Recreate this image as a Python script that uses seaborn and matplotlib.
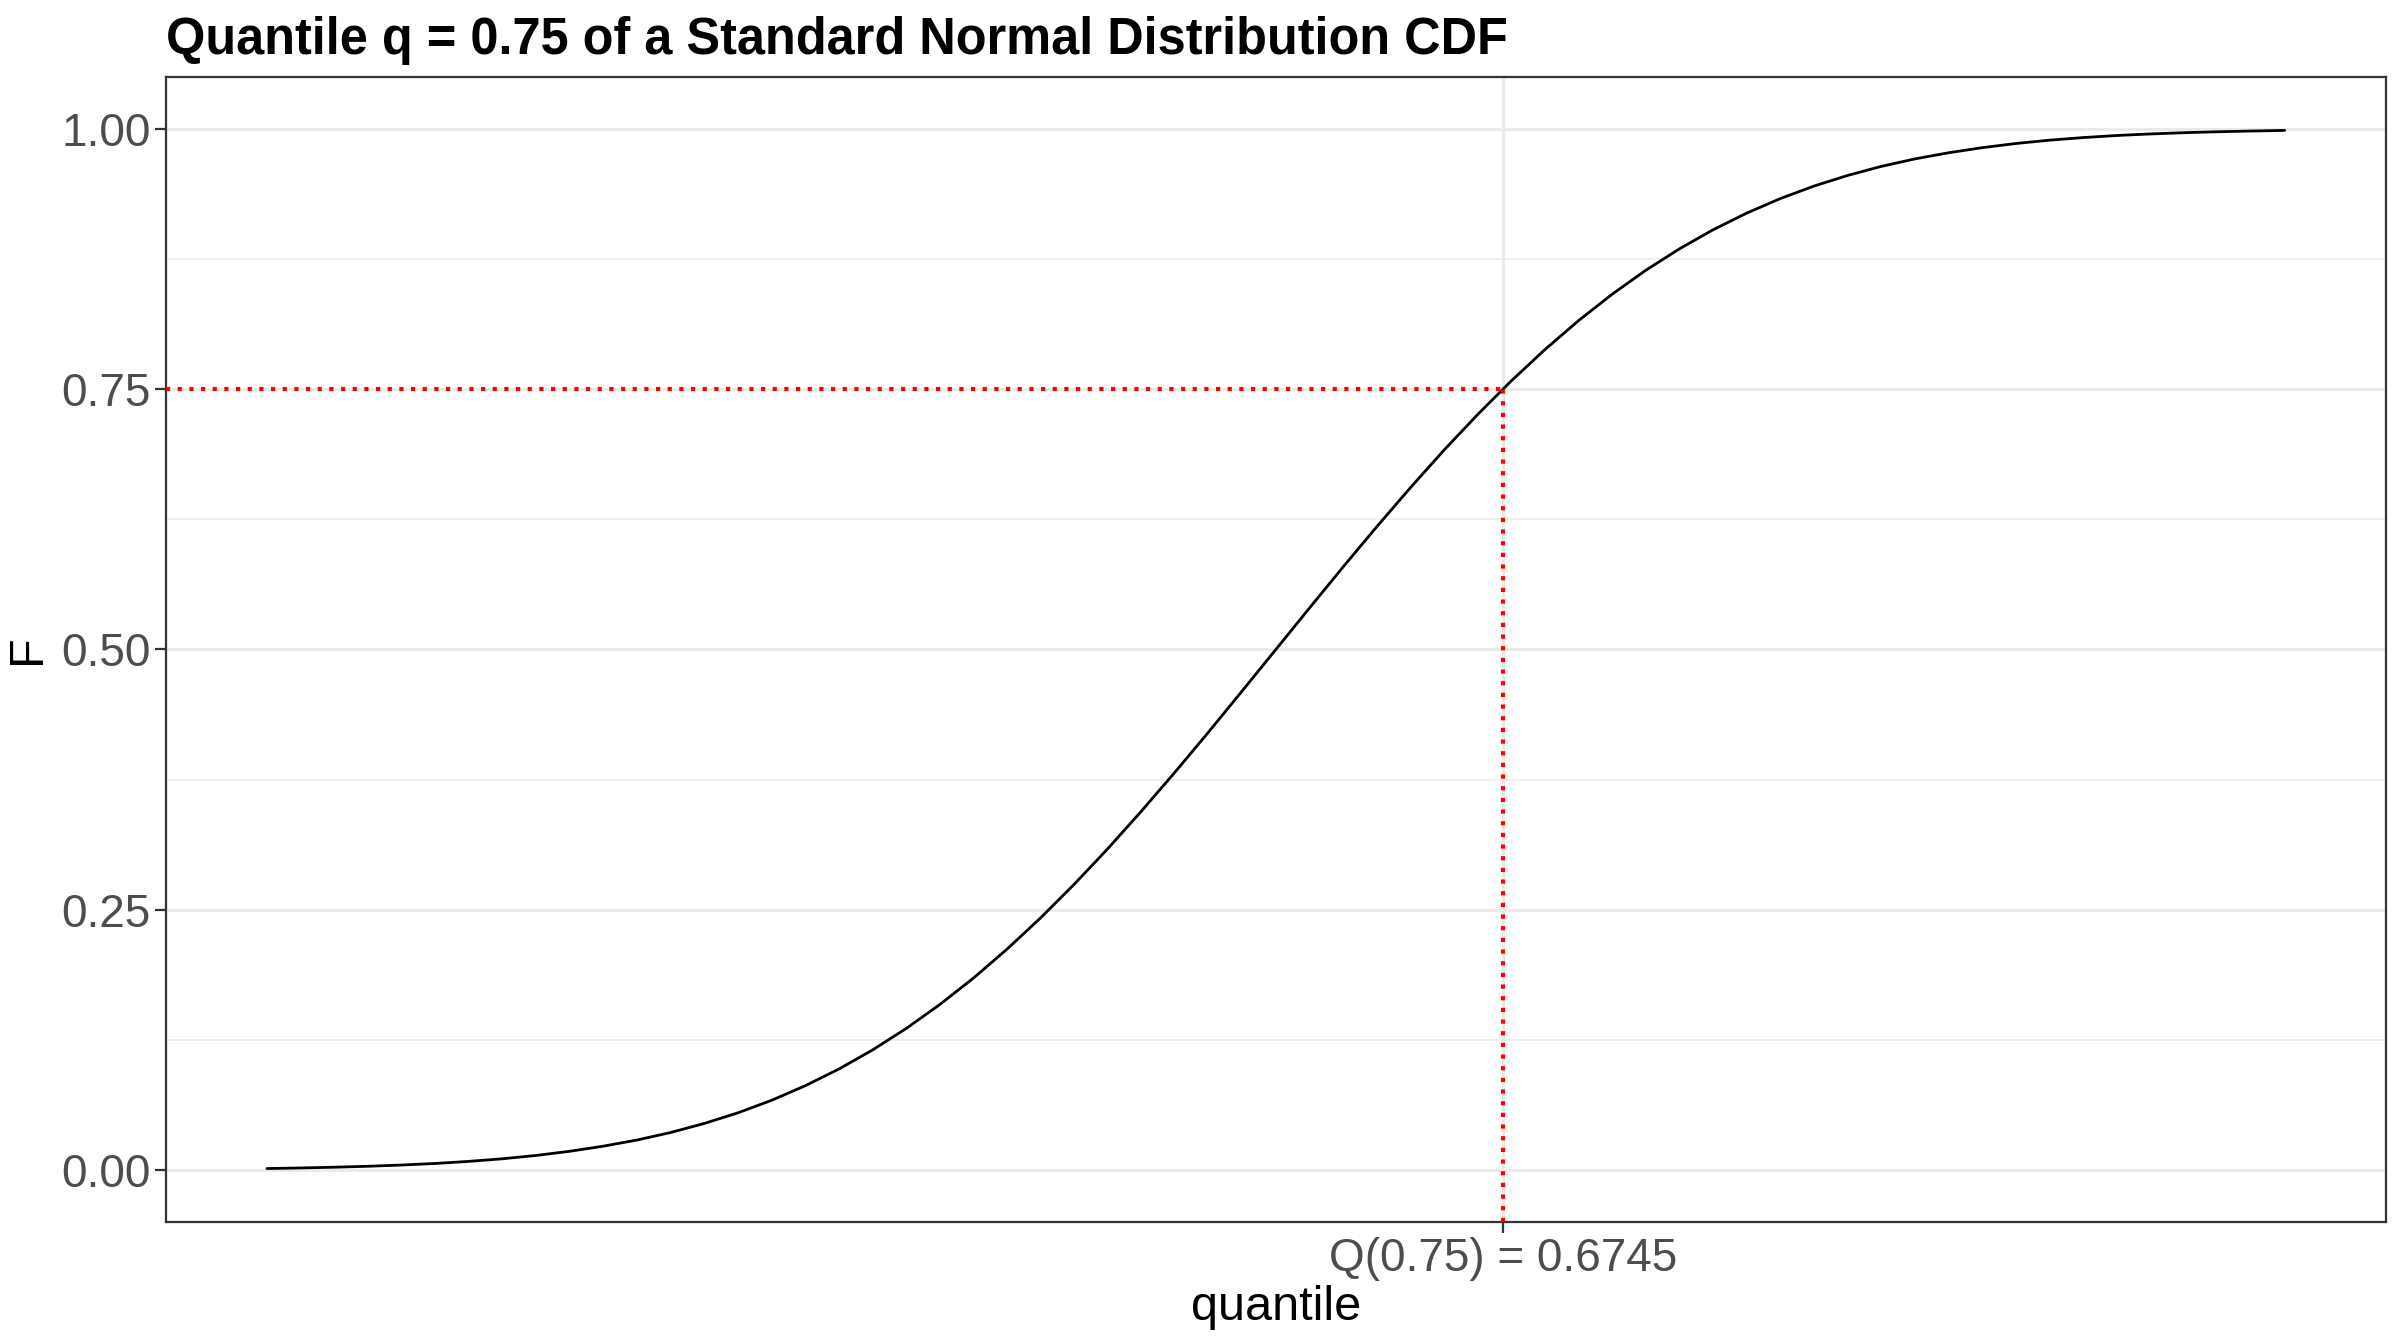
import numpy as np
import pandas as pd
import matplotlib
matplotlib.use("Agg")
import matplotlib.pyplot as plt
import seaborn as sns

# ---- data ----
quantile = [-3.0, -2.9, -2.8, -2.7, -2.6, -2.5, -2.4, -2.3, -2.2, -2.1,
            -2.0, -1.9, -1.8, -1.7, -1.6, -1.5, -1.4, -1.3, -1.2, -1.1,
            -1.0, -0.9, -0.8, -0.7, -0.6, -0.5, -0.4, -0.3, -0.2, -0.1,
            0.0, 0.1, 0.2, 0.3, 0.4, 0.5, 0.6, 0.7, 0.8, 0.9,
            1.0, 1.1, 1.2, 1.3, 1.4, 1.5, 1.6, 1.7, 1.8, 1.9,
            2.0, 2.1, 2.2, 2.3, 2.4, 2.5, 2.6, 2.7, 2.8, 2.9, 3.0]
F = [0.0013, 0.0019, 0.0026, 0.0035, 0.0047, 0.0062, 0.0082, 0.0107, 0.0139, 0.0179,
     0.0228, 0.0287, 0.0359, 0.0446, 0.0548, 0.0668, 0.0808, 0.0968, 0.1151, 0.1357,
     0.1587, 0.1841, 0.2119, 0.2420, 0.2743, 0.3085, 0.3446, 0.3821, 0.4207, 0.4602,
     0.5000, 0.5398, 0.5793, 0.6179, 0.6554, 0.6915, 0.7257, 0.7580, 0.7881, 0.8159,
     0.8413, 0.8643, 0.8849, 0.9032, 0.9192, 0.9332, 0.9452, 0.9554, 0.9641, 0.9713,
     0.9772, 0.9821, 0.9861, 0.9893, 0.9918, 0.9938, 0.9953, 0.9965, 0.9974, 0.9981, 0.9987]
q_level = 0.75
q_value = 0.6745
x_tick_labels = ["Q(0.75) = 0.6745"]
y_ticks = [0.0, 0.25, 0.5, 0.75, 1.0]
y_tick_labels = ["0.00", "0.25", "0.50", "0.75", "1.00"]
y_minor = [0.125, 0.375, 0.625, 0.875]
title = "Quantile q = 0.75 of a Standard Normal Distribution CDF"

df = pd.DataFrame({"quantile": quantile, "F": F})

sns.set_theme(style="white")
plt.rcParams["font.family"] = ["Liberation Sans", "DejaVu Sans"]

fig = plt.figure(figsize=(12, 6.72), dpi=200)
ax = fig.add_axes([0.0692, 0.0908, 0.9248, 0.8519])

xmin, xmax = min(quantile), max(quantile)
pad = 0.05 * (xmax - xmin)
ax.set_xlim(xmin - pad, xmax + pad)
ax.set_ylim(-0.05, 1.05)

# grid
for y in y_minor:
    ax.axhline(y, color="#EBEBEB", lw=0.6, zorder=0)
for y in y_ticks:
    ax.axhline(y, color="#EBEBEB", lw=1.1, zorder=0)
ax.axvline(q_value, color="#EBEBEB", lw=1.1, zorder=0)

sns.lineplot(data=df, x="quantile", y="F", color="black", linewidth=1.0, ax=ax, zorder=3)

# red dotted guides
x0 = ax.get_xlim()[0]
y0 = ax.get_ylim()[0]
ax.plot([x0, q_value], [q_level, q_level], color="red", lw=1.5,
        linestyle=(0, (1, 1.8)), zorder=4, dash_capstyle="butt")
ax.plot([q_value, q_value], [y0, q_level], color="red", lw=1.5,
        linestyle=(0, (1, 1.8)), zorder=4, dash_capstyle="butt")

ax.set_xticks([q_value])
ax.set_xticklabels(x_tick_labels)
ax.set_yticks(y_ticks)
ax.set_yticklabels(y_tick_labels)
ax.tick_params(axis="both", which="major", length=4, width=0.8, color="#333333",
               labelsize=16.5, labelcolor="#4D4D4D", pad=1.5, direction="out")
ax.tick_params(bottom=True, left=True)

for s in ax.spines.values():
    s.set_visible(True)
    s.set_color("#333333")
    s.set_linewidth(0.8)

ax.set_xlabel("quantile", fontsize=17.5, color="black", labelpad=1.5)
ax.set_ylabel("F", fontsize=17.5, color="black", labelpad=4)

fig.text(0.0692, 0.960, title, fontsize=18.2, fontweight="bold", color="black",
         ha="left", va="baseline")

fig.savefig("out.png", dpi=200)
